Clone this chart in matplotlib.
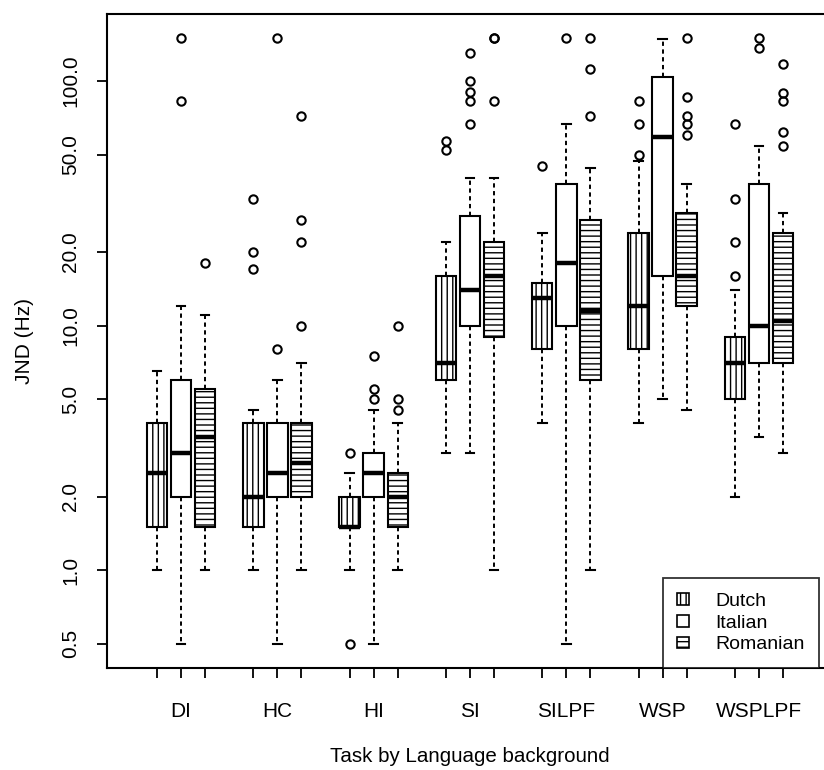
import matplotlib
matplotlib.use("Agg")
import matplotlib.pyplot as plt
from matplotlib.patches import Patch
from matplotlib.ticker import NullLocator
import numpy as np

plt.rcParams['font.family'] = ['Liberation Sans', 'DejaVu Sans']
plt.rcParams['hatch.linewidth'] = 1.0

tasks = ["DI", "HC", "HI", "SI", "SILPF", "WSP", "WSPLPF"]
languages = ["Dutch", "Italian", "Romanian"]

# five-number summaries per task: (lower whisker, Q1, median, Q3, upper whisker)
dutch_stats = [
    (1.0, 1.5, 2.5, 4.0, 6.5),
    (1.0, 1.5, 2.0, 4.0, 4.5),
    (1.0, 1.5, 1.5, 2.0, 2.5),
    (3.0, 6.0, 7.0, 16.0, 22.0),
    (4.0, 8.0, 13.0, 15.0, 24.0),
    (4.0, 8.0, 12.0, 24.0, 47.0),
    (2.0, 5.0, 7.0, 9.0, 14.0),
]
italian_stats = [
    (0.5, 2.0, 3.0, 6.0, 12.0),
    (0.5, 2.0, 2.5, 4.0, 6.0),
    (0.5, 2.0, 2.5, 3.0, 4.5),
    (3.0, 10.0, 14.0, 28.0, 40.0),
    (0.5, 10.0, 18.0, 38.0, 67.0),
    (5.0, 16.0, 59.0, 104.0, 148.0),
    (3.5, 7.0, 10.0, 38.0, 54.0),
]
romanian_stats = [
    (1.0, 1.5, 3.5, 5.5, 11.0),
    (1.0, 2.0, 2.75, 4.0, 7.0),
    (1.0, 1.5, 2.0, 2.5, 4.0),
    (1.0, 9.0, 16.0, 22.0, 40.0),
    (1.0, 6.0, 11.5, 27.0, 44.0),
    (4.5, 12.0, 16.0, 29.0, 38.0),
    (3.0, 7.0, 10.4, 24.0, 29.0),
]

dutch_outliers = [[], [17, 20, 33], [0.5, 3.0], [52, 57], [45], [50, 67, 83], [16, 22, 33, 67]]
italian_outliers = [[83, 150], [8, 150], [5.0, 5.5, 7.5], [67, 83, 90, 100, 130], [150], [], [136, 150]]
romanian_outliers = [[18], [10, 22, 27, 72], [4.5, 5.0, 10], [83, 150, 150], [72, 112, 150],
                     [60, 67, 72, 86, 150], [54, 62, 83, 89, 117]]

y_ticks = [0.5, 1.0, 2.0, 5.0, 10.0, 20.0, 50.0, 100.0]
y_tick_labels = ["0.5", "1.0", "2.0", "5.0", "10.0", "20.0", "50.0", "100.0"]

summaries = {"Dutch": dutch_stats, "Italian": italian_stats, "Romanian": romanian_stats}
outliers = {"Dutch": dutch_outliers, "Italian": italian_outliers, "Romanian": romanian_outliers}
hatches = {"Dutch": "|||", "Italian": "", "Romanian": "---"}

W, H = 824, 770
fig = plt.figure(figsize=(W / 100, H / 100), dpi=100)
ax = fig.add_axes([107 / W, 102 / H, 726 / W, 654 / H])

all_pos = []
for li, lang in enumerate(languages):
    stats = []
    for ti, t in enumerate(tasks):
        lo, q1, med, q3, hi = summaries[lang][ti]
        stats.append(dict(whislo=lo, q1=q1, med=med, q3=q3, whishi=hi,
                          fliers=np.array(outliers[lang][ti], dtype=float), label=""))
    positions = [ti * 4 + li + 1 for ti in range(len(tasks))]
    all_pos += positions
    ax.bxp(stats, positions=positions, widths=0.85, capwidths=0.36, patch_artist=True,
           manage_ticks=False,
           boxprops=dict(facecolor="white", edgecolor="black", linewidth=1.5, hatch=hatches[lang]),
           whiskerprops=dict(color="black", linewidth=1.4, linestyle=(0, (2.2, 1.8))),
           capprops=dict(color="black", linewidth=1.5),
           medianprops=dict(color="black", linewidth=3.2, solid_capstyle="butt"),
           flierprops=dict(marker="o", markerfacecolor="none", markeredgecolor="black",
                           markersize=6, markeredgewidth=1.5))

ax.set_yscale("log")
ax.set_ylim(0.398, 188)
ax.set_xlim(-1.076, 29.076)
ax.set_yticks(y_ticks)
ax.set_yticklabels(y_tick_labels, rotation=90, va="center")
ax.yaxis.set_minor_locator(NullLocator())

ax.xaxis.remove_overlapping_locs = False
ax.set_xticks(sorted(all_pos))
ax.set_xticklabels([""] * len(all_pos))
ax.set_xticks([ti * 4 + 2 for ti in range(len(tasks))], labels=tasks, minor=True)
ax.tick_params(axis="x", which="minor", length=0, pad=24.5, labelsize=15)
ax.tick_params(axis="x", which="major", length=7.2, width=1.3)
ax.tick_params(axis="y", length=7.2, width=1.3, pad=12, labelsize=15)
for s in ax.spines.values():
    s.set_linewidth(1.5)

fig.text(24 / W, 1 - 341 / H, "JND (Hz)", rotation=90, ha="center", va="center", fontsize=15)
fig.text(470 / W, 1 - 757 / H, "Task by Language background", ha="center", va="center", fontsize=14.8)

handles = [Patch(facecolor="white", edgecolor="black", hatch=hatches[l], linewidth=1.2, label=l)
           for l in languages]
leg = ax.legend(handles=handles, loc="lower right", bbox_to_anchor=(819 / W, 102 / H),
                bbox_transform=fig.transFigure, fontsize=14, frameon=True, fancybox=False,
                borderpad=0.75, handlelength=0.6, handleheight=0.55, handletextpad=1.35,
                labelspacing=0.25, borderaxespad=0)
leg.get_frame().set_edgecolor("black")
leg.get_frame().set_linewidth(1.3)

fig.savefig("out.png", dpi=100)
